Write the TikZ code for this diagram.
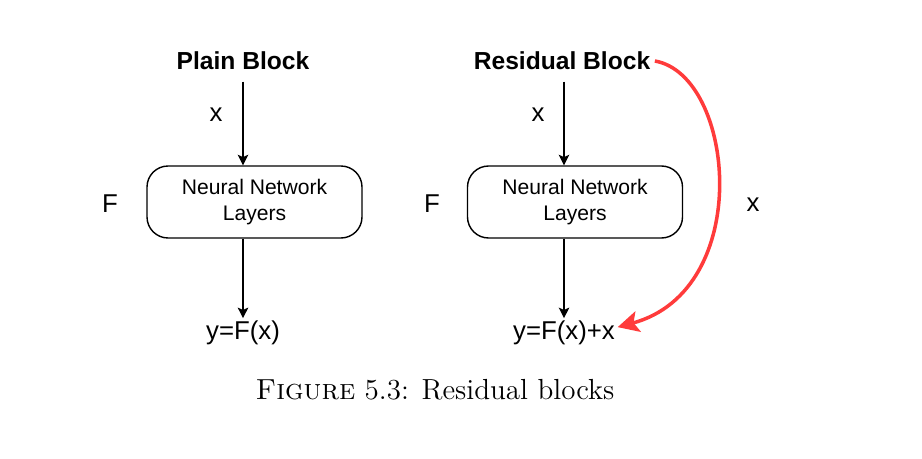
\documentclass[tikz,border=0pt]{standalone}
\usepackage{xcolor}
\usepackage{fontspec}
\usepackage{tikz}
\usetikzlibrary{arrows.meta,positioning}
\newfontfamily\helv{Liberation Sans}
\definecolor{skipred}{HTML}{FF3B3B}
\tikzset{
    blocktitle/.style={font=\helv\bfseries\fontsize{10.5}{12}\selectfont, inner sep=1pt,
        outer xsep=1pt, outer ysep=4pt},
    lbl/.style={font=\helv\fontsize{11}{13}\selectfont, inner sep=1pt},
    layerbox/.style={draw, line width=0.6pt, rounded corners=9pt, minimum width=3.225cm,
        minimum height=1.08cm, align=center, font=\helv\fontsize{9}{11}\selectfont},
    flow/.style={line width=0.6pt, -{Stealth[length=4.5pt,width=4.5pt,inset=1pt]}},
    skip/.style={skipred, line width=1.5pt, -{Stealth[length=9pt,width=9pt,inset=2pt]}}
}

\begin{document}
\begin{tikzpicture}[x=0.015cm, y=-0.015cm]
        \useasboundingbox (0,0) rectangle (922,458);
        \node [blocktitle] (plaintitle) at (243,61) {Plain Block};
        \node [layerbox] (plainnn) at (254.5,202) {Neural Network\\Layers};
        \node [lbl] (plainout) at (243,333) {y=F(x)};
        \node [lbl] (plainx) at (216,115) {x};
        \node [lbl] (plainf) at (110,204) {F};
        \draw [flow] (plaintitle.south -| plainout) -- (plainnn.north -| plainout);
        \draw [flow] (plainnn.south -| plainout) -- (plainout);

        \node [blocktitle] (restitle) at (562,61) {Residual Block};
        \node [layerbox] (resnn) at (575,202) {Neural Network\\Layers};
        \node [lbl] (resout) at (564,333) {y=F(x)+x};
        \node [lbl] (resx) at (538,115) {x};
        \node [lbl] (resf) at (432,204) {F};
        \node [lbl] (skipx) at (753,205) {x};
        \draw [flow] (restitle.south -| resout) -- (resnn.north -| resout);
        \draw [flow] (resnn.south -| resout) -- (resout);
        \draw [skip] (restitle.east) .. controls (735,75) and (755,290) .. ([yshift=2.5pt]resout.east);

        \node [font=\fontsize{12.4}{14}\selectfont] (caption) at (435,390) {\textsc{Figure} 5.3: Residual blocks};
    \end{tikzpicture}
\end{document}
